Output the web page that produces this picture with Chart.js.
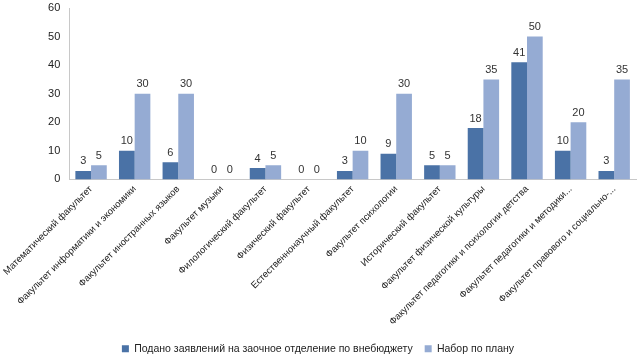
<!DOCTYPE html>
<html>
<head>
<meta charset="utf-8">
<script src="https://cdn.jsdelivr.net/npm/chart.js@4/dist/chart.umd.min.js"></script>
<style>
  html, body { margin: 0; padding: 0; background: #fff; }
  #wrap { width: 640px; height: 360px; }
</style>
</head>
<body>
<div id="wrap"><canvas id="chart"></canvas></div>
<script>
// faculties
var categories = [
   "Математический факультет",
   "Факультет информатики и экономики",
   "Факультет иностранных языков",
   "Факультет музыки",
   "Филологический факультет",
   "Физический факультет",
   "Естественнонаучный факультет",
   "Факультет психологии",
   "Исторический факультет",
   "Факультет физической культуры",
   "Факультет педагогики и психологии детства",
   "Факультет педагогики и методики...",
   "Факультет правового и социально-..."
];

var applied = [3, 10, 6, 0, 4, 0, 3, 9, 5, 18, 41, 10, 3];
var planned = [5, 30, 30, 0, 5, 0, 10, 30, 5, 35, 50, 20, 35];

var seriesNames = ["Подано заявлений на заочное отделение по внебюджету", "Набор по плану"];
var yTicks = [0, 10, 20, 30, 40, 50, 60];

var FONT = "'Liberation Sans', Arial, sans-serif";

// draws the value above every bar (no datalabels plugin available offline)
var valueLabels = {
   id: 'valueLabels',
   afterDatasetsDraw: function(chart) {
      var ctx = chart.ctx;
      ctx.save();
      ctx.font = "11px " + FONT;
      ctx.fillStyle = "#333";
      ctx.textAlign = "center";
      ctx.textBaseline = "bottom";
      chart.data.datasets.forEach(function(ds, i) {
         var meta = chart.getDatasetMeta(i);
         meta.data.forEach(function(bar, j) {
            ctx.fillText(String(ds.data[j]), bar.x, bar.y - 4);
         });
      });
      ctx.restore();
   }
};

new Chart(document.getElementById('chart'), {
   type: 'bar',
   data: {
      labels: categories,
      datasets: [{
         label: seriesNames[0],
         data: applied,
         backgroundColor: "#4A72A6",
         borderWidth: 0,
         categoryPercentage: 0.72,
         barPercentage: 1
      }, {
         label: seriesNames[1],
         data: planned,
         backgroundColor: "#95ABD3",
         borderWidth: 0,
         categoryPercentage: 0.72,
         barPercentage: 1
      }]
   },
   options: {
      responsive: true,
      maintainAspectRatio: false,
      animation: false,
      layout: { padding: { top: 8, right: 4, left: 0, bottom: -4 } },
      plugins: {
         tooltip: { enabled: false },
         legend: {
            position: 'bottom',
            labels: {
               boxWidth: 7,
               boxHeight: 7,
               padding: 12,
               color: "#222",
               font: { family: FONT, size: 10.5 }
            }
         }
      },
      scales: {
         x: {
            grid: { display: false, drawTicks: false },
            border: { display: true, color: "#c8c8c8" },
            ticks: {
               autoSkip: false,
               minRotation: 45,
               maxRotation: 45,
               padding: 4,
               color: "#222",
               font: { family: FONT, size: 9.5 }
            }
         },
         y: {
            min: 0,
            max: 60,
            afterBuildTicks: function(axis) {
               axis.ticks = yTicks.map(function(v) { return { value: v }; });
            },
            afterFit: function(axis) {
               axis.paddingTop = 0;
            },
            grid: { display: false, drawTicks: false },
            border: { display: true, color: "#c8c8c8" },
            ticks: {
               padding: 9,
               color: "#222",
               font: { family: FONT, size: 11 }
            }
         }
      }
   },
   plugins: [valueLabels]
});
</script>
</body>
</html>
